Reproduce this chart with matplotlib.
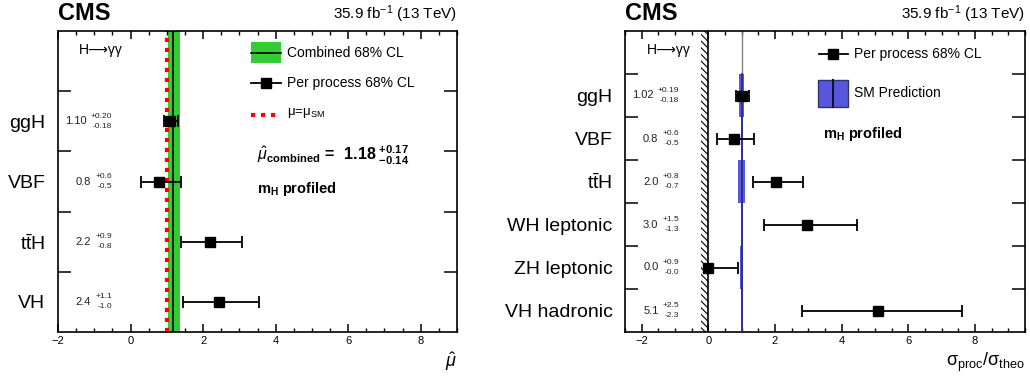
import numpy as np
import matplotlib
matplotlib.use("Agg")
import matplotlib.pyplot as plt
from matplotlib.patches import Rectangle
from matplotlib.lines import Line2D

plt.rcParams['font.family'] = ['Liberation Sans', 'DejaVu Sans']
plt.rcParams['mathtext.fontset'] = 'custom'
plt.rcParams['mathtext.rm'] = 'Liberation Sans'
plt.rcParams['mathtext.it'] = 'Liberation Sans:italic'
plt.rcParams['mathtext.bf'] = 'Liberation Sans:bold'
plt.rcParams['hatch.linewidth'] = 0.8

# ---------------------------------------------------------------------------
# left panel: signal strength per production process
procs_l = ["ggH", "VBF", r"t$\bar{\rm t}$H", "VH"]
mu_l = [1.10, 0.78, 2.18, 2.44]
mu_l_up = [0.20, 0.6, 0.9, 1.1]
mu_l_dn = [0.18, 0.5, 0.8, 1.0]
lab_l = ["1.10", "0.8", "2.2", "2.4"]
lab_l_up = ["+0.20", "+0.6", "+0.9", "+1.1"]
lab_l_dn = ["-0.18", "-0.5", "-0.8", "-1.0"]
mu_comb = 1.18
mu_comb_up = 0.17
mu_comb_dn = 0.14
mu_sm = 1.0

# right panel: cross section ratio per process
procs_r = ["ggH", "VBF", r"t$\bar{\rm t}$H", "WH leptonic", "ZH leptonic", "VH hadronic"]
xs_r = [1.02, 0.76, 2.03, 2.97, 0.0, 5.1]
xs_r_up = [0.19, 0.6, 0.8, 1.5, 0.9, 2.5]
xs_r_dn = [0.18, 0.5, 0.7, 1.3, 0.0, 2.3]
lab_r = ["1.02", "0.8", "2.0", "3.0", "0.0", "5.1"]
lab_r_up = ["+0.19", "+0.6", "+0.8", "+1.5", "+0.9", "+2.5"]
lab_r_dn = ["-0.18", "-0.5", "-0.7", "-1.3", "-0.0", "-2.3"]
sm_unc = [0.075, 0.03, 0.1, 0.03, 0.05, 0.03]
phys_bound = -0.22

green = "#33cc33"
blue = "#5757dd"
navy = "#2b2b92"

fig = plt.figure(figsize=(10.3, 3.78), dpi=100)
ax1 = fig.add_axes((58/1030, 46/378, 399/1030, 301/378))
ax2 = fig.add_axes((625/1030, 46/378, 400/1030, 301/378))
renderer = fig.canvas.get_renderer()


def style_axes(ax, nrow, xlo, xhi, labels):
    ax.set_xticks(np.arange(-2, 9, 2))
    ax.set_xticks(np.arange(xlo, xhi + 0.01, 0.5), minor=True)
    ax.set_xlim(xlo, xhi)
    ax.set_yticks(np.arange(1, nrow + 1))
    ax.set_yticklabels([])
    centers = np.arange(nrow)[::-1] + 0.5
    ax.set_yticks(centers, minor=True)
    ax.set_yticklabels(labels, minor=True, fontsize=14)
    ax.set_ylim(0, nrow + 1)
    ax.tick_params(axis='x', which='major', direction='in', top=True,
                   length=6, width=1.1, labelsize=8, pad=3)
    ax.tick_params(axis='x', which='minor', direction='in', top=True,
                   length=3, width=1.0)
    ax.tick_params(axis='y', which='major', direction='in', right=True,
                   length=9.5, width=1.1)
    ax.tick_params(axis='y', which='minor', length=0, pad=9)
    for s in ax.spines.values():
        s.set_linewidth(1.2)
    return centers


def value_labels(ax, centers, lab, up, dn):
    tr = ax.get_yaxis_transform()
    for y, a, b, c in zip(centers, lab, up, dn):
        tu = ax.annotate(b, xy=(0.135, y), xycoords=tr, xytext=(0, 3.6),
                         textcoords='offset points', ha='right', va='center',
                         fontsize=6, color='#222222')
        td = ax.annotate(c, xy=(0.135, y), xycoords=tr, xytext=(0, -3.4),
                         textcoords='offset points', ha='right', va='center',
                         fontsize=6, color='#222222')
        w = max(tu.get_window_extent(renderer).width,
                td.get_window_extent(renderer).width) * 72 / 100
        ax.annotate(a, xy=(0.135, y), xycoords=tr, xytext=(-w - 2.8, 0),
                    textcoords='offset points', ha='right', va='center',
                    fontsize=8, color='#222222')


# ---------------- left ----------------
yl = style_axes(ax1, 4, -2, 9, procs_l)
ax1.axvspan(mu_comb - mu_comb_dn, mu_comb + mu_comb_up, color=green, lw=0, zorder=1)
ax1.axvline(mu_comb, color='black', lw=1.2, zorder=2)
ax1.axvline(mu_sm, color='red', lw=3, ls=(0, (1.0, 1.4)), zorder=2)
ax1.errorbar(mu_l, yl, xerr=[mu_l_dn, mu_l_up], fmt='s', color='black',
             ms=7.5, lw=1.3, capsize=4.5, capthick=1.3, zorder=4)
value_labels(ax1, yl, lab_l, lab_l_up, lab_l_dn)

t1 = ax1.transAxes
ax1.text(0.053, 0.937, "H⟶γγ", transform=t1, fontsize=10, va='center')
ax1.add_patch(Rectangle((0.484, 0.894), 0.075, 0.069, transform=t1,
                        color=green, lw=0))
ax1.add_line(Line2D([0.484, 0.559], [0.928, 0.928], transform=t1, color='black', lw=1.2))
ax1.text(0.574, 0.928, "Combined 68% CL", transform=t1, fontsize=10, va='center')
ax1.add_line(Line2D([0.484, 0.559], [0.827, 0.827], transform=t1, color='black', lw=1.3))
ax1.add_line(Line2D([0.5215], [0.827], transform=t1, color='black', marker='s', ms=7.5))
ax1.text(0.574, 0.827, "Per process 68% CL", transform=t1, fontsize=10, va='center')
ax1.add_line(Line2D([0.484, 0.55], [0.721, 0.721], transform=t1, color='red', lw=3,
                    ls=(0, (1.0, 1.4))))
ax1.text(0.574, 0.728, r"μ=μ$_{\mathregular{SM}}$", transform=t1, fontsize=9.5, va='center')
ax1.text(0.499, 0.588,
         r"$\hat{\mu}_{\mathbf{combined}}\,\mathbf{=}\;\;\mathbf{%.2f}\;^{\mathbf{+%.2f}}_{\mathbf{-%.2f}}$"
         % (mu_comb, mu_comb_up, mu_comb_dn),
         transform=t1, fontsize=11.5, va='center')
ax1.text(0.499, 0.475, r"$\mathbf{m}_{\mathbf{H}}$ profiled", transform=t1,
         fontsize=10.5, fontweight='bold', va='center')
ax1.text(1.0, -0.10, r"$\hat{\mu}$", transform=t1, fontsize=13, ha='right', va='center')

# ---------------- right ----------------
yr = style_axes(ax2, 6, -2.5, 9.5, procs_r)
ax2.axvspan(phys_bound, 0, facecolor='none', edgecolor='black', hatch='\\\\\\\\\\',
            lw=0, zorder=1)
ax2.axvline(0, color='black', lw=1.2, zorder=2)
ax2.plot([1, 1], [6, 7], color='gray', lw=1.0, zorder=2)
for y, u in zip(yr, sm_unc):
    ax2.fill_betweenx([y - 0.5, y + 0.5], 1 - u, 1 + u, color=blue, lw=0, zorder=2)
    ax2.plot([1, 1], [y - 0.5, y + 0.5], color=navy, lw=1.3, zorder=3)
ax2.errorbar(xs_r, yr, xerr=[xs_r_dn, xs_r_up], fmt='s', color='black',
             ms=7.5, lw=1.3, capsize=4.5, capthick=1.3, zorder=4)
value_labels(ax2, yr, lab_r, lab_r_up, lab_r_dn)

t2 = ax2.transAxes
ax2.text(0.055, 0.937, "H⟶γγ", transform=t2, fontsize=10, va='center')
ax2.add_line(Line2D([0.485, 0.5575], [0.924, 0.924], transform=t2, color='black', lw=1.3))
ax2.add_line(Line2D([0.521], [0.924], transform=t2, color='black', marker='s', ms=7.5))
ax2.text(0.5725, 0.924, "Per process 68% CL", transform=t2, fontsize=10, va='center')
ax2.add_patch(Rectangle((0.4825, 0.748), 0.075, 0.089, transform=t2,
                        facecolor=blue, edgecolor='#333366', lw=1.0))
ax2.add_line(Line2D([0.52, 0.52], [0.748, 0.837], transform=t2, color='#111133', lw=1.5))
ax2.text(0.5725, 0.794, "SM Prediction", transform=t2, fontsize=10, va='center')
ax2.text(0.495, 0.658, r"$\mathbf{m}_{\mathbf{H}}$ profiled", transform=t2,
         fontsize=10.5, fontweight='bold', va='center')
ax2.text(1.0, -0.10, r"σ$_{\mathregular{proc}}$/σ$_{\mathregular{theo}}$", transform=t2,
         fontsize=13, ha='right', va='center')

# CMS labels
for ax in (ax1, ax2):
    ax.text(0.0, 1.02, "CMS", transform=ax.transAxes, fontsize=17,
            fontweight='bold', va='bottom', ha='left')
    ax.text(1.0, 1.02, r"35.9 fb$^{-1}$ (13 TeV)", transform=ax.transAxes,
            fontsize=11, va='bottom', ha='right')

fig.savefig("out.png", dpi=100)
